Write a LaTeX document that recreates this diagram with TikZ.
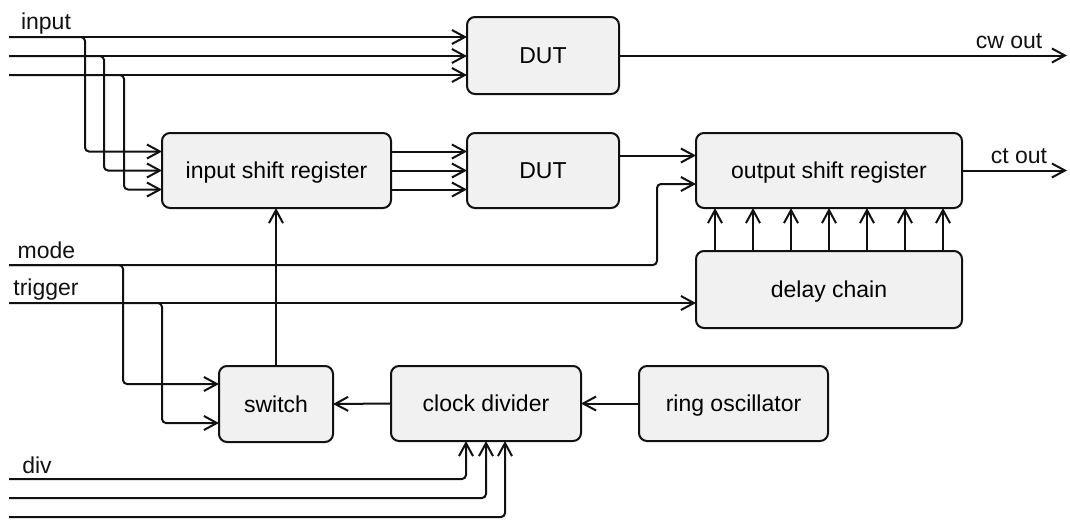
\documentclass[tikz,border=0pt]{standalone}
\usepackage{fontspec}
\setmainfont{Liberation Sans}
\usetikzlibrary{arrows.meta}
\definecolor{boxfill}{HTML}{F1F1F1}
\definecolor{ink}{HTML}{111111}
\tikzset{
  blk/.style={draw=ink, fill=boxfill, line width=2pt, rounded corners=8pt,
    inner sep=0pt, outer sep=0pt, align=center, text height=17pt, text depth=1pt},
  wire/.style={draw=ink, line width=2pt, rounded corners=4pt},
  arr/.style={wire, -{Straight Barb[length=13pt,width=14pt,line width=2pt]}},
  lbl/.style={inner sep=0pt, text=ink, text height=17pt, text depth=1pt},
}
\begin{document}
\begin{tikzpicture}[x=1pt, y=-1pt, font=\fontsize{23}{27}\selectfont]
\useasboundingbox (0,0) rectangle (1070,520);

% blocks
\node[blk, minimum width=152pt, minimum height=77pt] (dut1)   at (543,55.5)  {DUT};
\node[blk, minimum width=229pt, minimum height=75pt] (isr)    at (276.5,170.5) {input shift register};
\node[blk, minimum width=152pt, minimum height=75pt] (dut2)   at (543,170.5) {DUT};
\node[blk, minimum width=266pt, minimum height=75pt] (osr)    at (829,170.5) {output shift register};
\node[blk, minimum width=266pt, minimum height=77pt] (delay)  at (829,289.5) {delay chain};
\node[blk, minimum width=114pt, minimum height=76pt] (switch) at (276,404)   {switch};
\node[blk, minimum width=190pt, minimum height=75pt] (clkdiv) at (486,403.5) {clock divider};
\node[blk, minimum width=189pt, minimum height=75pt] (ring)   at (733.5,403.5) {ring oscillator};

% signal ends
\coordinate (in1) at (9,37);
\coordinate (in2) at (9,56);
\coordinate (in3) at (9,75);
\coordinate (mode) at (9,265);
\coordinate (trig) at (9,303);
\coordinate (d1) at (9,479);
\coordinate (d2) at (9,498);
\coordinate (d3) at (9,517);
\coordinate (cw) at (1067,55.5);
\coordinate (ct) at (1067,170.5);

% labels
\node[lbl] (linput)   at (46,21)    {input};
\node[lbl] (lmode)    at (46.5,250) {mode};
\node[lbl] (ltrigger) at (46,287)   {trigger};
\node[lbl] (ldiv)     at (37,465)   {div};
\node[lbl] (lcw)      at (1009,40)  {cw out};
\node[lbl] (lct)      at (1019,155) {ct out};

% inputs to the direct DUT
\draw[arr] (in1) -- (in1 -| dut1.west);
\draw[arr] (in2) -- (in2 -| dut1.west);
\draw[arr] (in3) -- (in3 -| dut1.west);

% inputs to the input shift register
\draw[arr] (in1) -- ++(76,0) |- ([yshift=19pt]isr.west);
\draw[arr] (in2) -- ++(95,0) |- (isr.west);
\draw[arr] (in3) -- ++(115,0) |- ([yshift=-19pt]isr.west);

% input shift register to DUT
\draw[arr] ([yshift=19pt]isr.east) -- ([yshift=19pt]dut2.west);
\draw[arr] (isr.east) -- (dut2.west);
\draw[arr] ([yshift=-19pt]isr.east) -- ([yshift=-19pt]dut2.west);

% DUT to output shift register
\draw[arr] ([yshift=15pt]dut2.east) -- ([yshift=15pt]osr.west);

% outputs
\draw[arr] (dut1.east) -- (cw);
\draw[arr] (osr.east) -- (ct);

% mode and trigger
\draw[arr] (mode) -- ++(648,0) |- ([yshift=-13.5pt]osr.west);
\draw[arr] (mode) -- ++(114,0) |- ([yshift=20pt]switch.west);
\draw[arr] (trig) -- (trig -| delay.west);
\draw[arr] (trig) -- ++(153,0) |- ([yshift=-19pt]switch.west);

% delay chain taps
\foreach \k in {-3,...,3}
  \draw[arr] ([xshift=\k*38pt]delay.north) -- ([xshift=\k*38pt]osr.south);

% clock path
\draw[arr] (switch.north) -- (switch.north |- isr.south);
\draw[arr] (clkdiv.west) -- (switch.east);
\draw[arr] (ring.west) -- (clkdiv.east);

% divider setting
\draw[arr] (d1) -| ([xshift=-20pt]clkdiv.south);
\draw[arr] (d2) -| (clkdiv.south);
\draw[arr] (d3) -| ([xshift=19pt]clkdiv.south);
\end{tikzpicture}
\end{document}
